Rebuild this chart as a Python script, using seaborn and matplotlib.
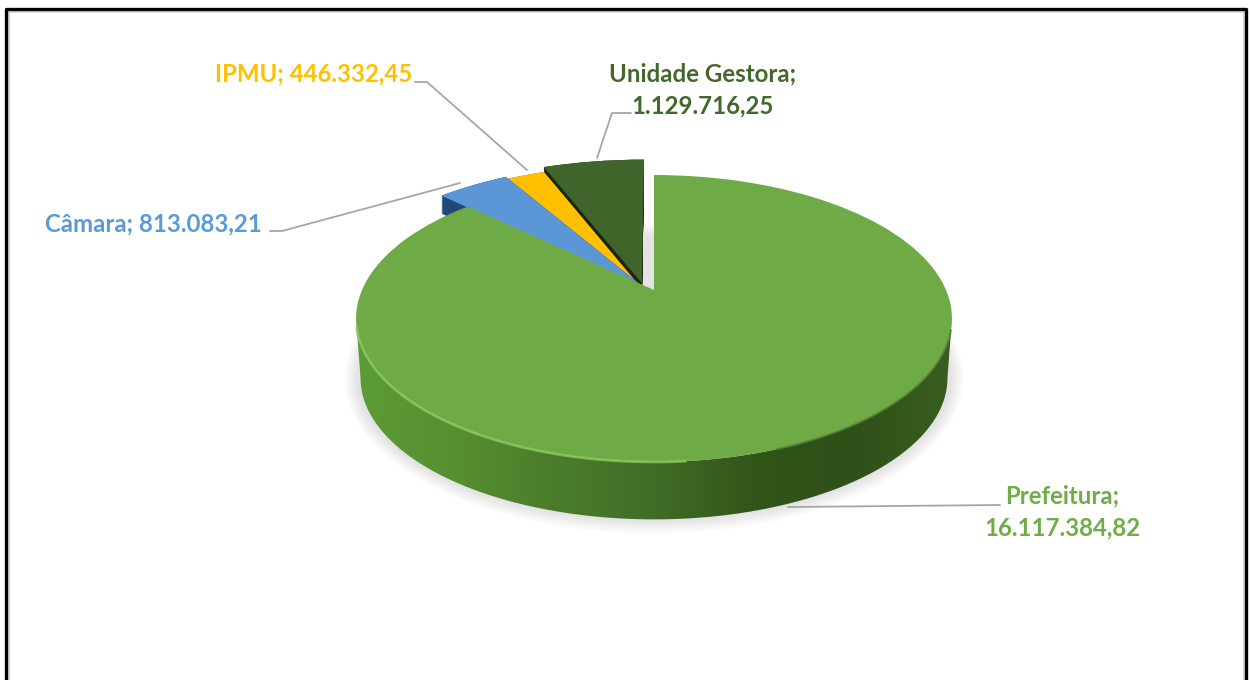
import numpy as np
import seaborn as sns
import matplotlib.pyplot as plt
from matplotlib.patches import Ellipse, Polygon
from matplotlib.transforms import Transform

categorias = ['Prefeitura', 'Câmara', 'IPMU', 'Unidade Gestora']
valores = [16117384.82, 813083.21, 446332.45, 1129716.25]
rotulos = ['Prefeitura;\n16.117.384,82', 'Câmara; 813.083,21',
           'IPMU; 446.332,45', 'Unidade Gestora;\n1.129.716,25']
cores = ['#6eaa46', '#5b97d6', '#ffc000', '#40652a']
cores_lado = ['#4a7a2b', '#1f4a78', '#8a6a10', '#1a2610']
cores_texto = ['#70ad47', '#5b9bd5', '#ffc000', '#43682b']

sns.set_theme(style='white')
plt.rcParams['font.family'] = ['Lato', 'DejaVu Sans']


# perspectiva do disco: o fundo fica menor que a frente
class Perspectiva(Transform):
    input_dims = 2
    output_dims = 2

    def __init__(self, desce=0, k=1.0):
        super().__init__()
        self.desce = desce
        self.k = k

    def transform_non_affine(self, values):
        v = np.asarray(values, dtype=float)
        w = 1 + 0.1986 * v[:, 1]
        return np.column_stack([654 + self.k * 292 * v[:, 0] / w,
                                290 + self.desce - self.k * 137.8 * v[:, 1] / w])


fig, ax = plt.subplots(figsize=(12.51, 6.8), dpi=100)
fig.subplots_adjust(0, 0, 1, 1)


def desenha_pizza(desce=0, k=1.0, cols=cores, so=None):
    fatias, _ = ax.pie(valores, colors=cols, startangle=90, counterclock=False,
                       wedgeprops={'linewidth': 0})
    # cada fatia menor tem o proprio deslocamento
    centros = [(0, 0), (-0.045, 0.035), (-0.05, 0.03), (-0.042, 0.05)]
    raios = [1, 1.10, 1.08, 1.115]
    ordem = [3, 2, 1, 0]
    for i, f in enumerate(fatias):
        f.set_center(centros[i])
        f.set_radius(raios[i])
        f.set_transform(Perspectiva(desce, k) + ax.transData)
        f.set_zorder(ordem.index(i) * 2 + (1 if desce == 0 else 0) + 3)
        if so is not None and i not in so:
            f.set_visible(False)
    return fatias


# sombra suave
for i in range(14):
    ax.add_patch(Ellipse((654, 378), 2 * (300 + 10 - i), 2 * (146 + 10 - i),
                         color='#808080', alpha=0.014, lw=0, zorder=1))

# lateral das fatias menores
for d in range(0, 19):
    desenha_pizza(desce=d, cols=cores_lado, so=[1, 2, 3])

topo = desenha_pizza()

# lateral da fatia principal com degrade
t = np.linspace(np.pi / 2 + 0.2, 3 * np.pi / 2 - 0.2, 200)
p_baixo = Perspectiva(60, 0.985).transform_non_affine(np.column_stack([np.sin(t), np.cos(t)]))
p_cima = Perspectiva(0, 1).transform_non_affine(np.column_stack([np.sin(t[::-1]), np.cos(t[::-1])]))
contorno = Polygon(np.vstack([p_baixo, p_cima]), transform=ax.transData, fc='none', ec='none')
ax.add_patch(contorno)
degrade = sns.blend_palette(['#5c9c35', '#568f30', '#4b7c2b', '#416c27', '#325519',
                             '#2f5019', '#3a5f20'], as_cmap=True)
img = ax.imshow(np.linspace(0, 1, 256)[None, :], cmap=degrade, aspect='auto',
                extent=(355, 955, 540, 290), zorder=9)
img.set_clip_path(contorno)
topo[0].set_zorder(10)

# brilho da borda
ang = np.radians(np.linspace(255, 175, 80))
ax.plot(np.sin(ang), np.cos(ang), color='#8acb5e', lw=2, alpha=0.75, zorder=11,
        transform=Perspectiva() + ax.transData, solid_capstyle='round')
ang = np.radians(np.linspace(160, 106, 40))
ax.plot(np.sin(ang), np.cos(ang), color='#4c7c2e', lw=1.5, alpha=0.7, zorder=11,
        transform=Perspectiva() + ax.transData)

ax.set(xlim=(0, 1251), ylim=(680, 0), aspect='auto')
ax.set_axis_off()

# linhas de chamada
linhas = [([1000, 788], [505, 507]), ([270, 282, 460], [231, 231, 183]),
          ([415, 427, 527], [82, 82, 170]), ([631, 612, 597], [113, 113, 158])]
for xs, ys in linhas:
    ax.plot(xs, ys, color='#a6a6a6', lw=1.3, zorder=2)

pos_texto = [(1062, 512, 'center'), (45, 224, 'left'), (215, 74, 'left'), (703, 89.5, 'center')]
for rot, cor, (x, y, ha) in zip(rotulos, cores_texto, pos_texto):
    ax.text(x, y, rot, color=cor, fontsize=17.3, fontweight='bold', ha=ha, va='center',
            linespacing=1.48, zorder=13)

# moldura
ax.plot([8.5, 8.5, 1243.5, 1243.5], [680, 11.5, 11.5, 680], color='#d9d9d9', lw=1.5, zorder=14)
ax.plot([6, 6, 1246, 1246], [680, 9, 9, 680], color='black', lw=2.4, zorder=15)

fig.savefig('out.png', dpi=100)
